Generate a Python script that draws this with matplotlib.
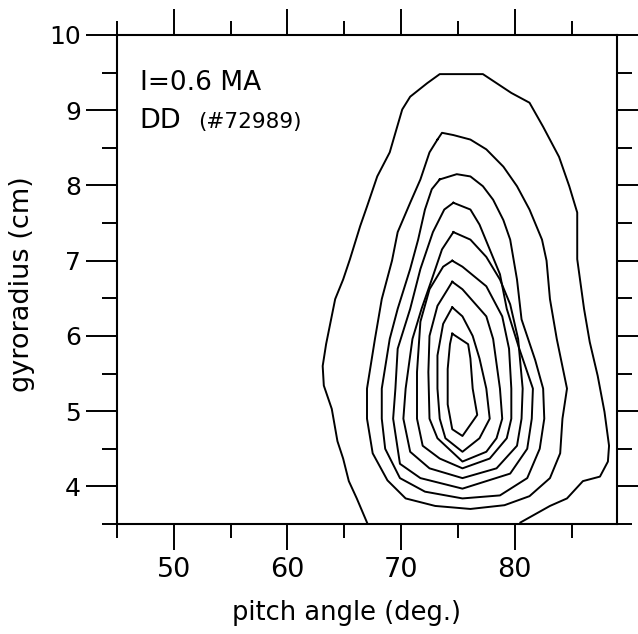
import numpy as np
import matplotlib.pyplot as plt

plt.rcParams['font.family'] = ['DejaVu Sans']

# contour lines: pitch angle (deg.) vs gyroradius (cm)
# outermost line is cut by the lower axis, the other 8 are closed
c1_pitch = [67.0, 66.1, 65.4, 64.9, 64.4, 63.9, 63.2, 63.1, 63.4, 64.2, 64.9, 65.5,
            66.4, 67.0, 67.9, 69.0, 69.5, 70.1, 70.8, 72.3, 73.4, 77.2, 79.7, 81.3,
            82.5, 83.9, 84.8, 85.5, 85.5, 86.1, 86.6, 87.3, 87.9, 88.3, 88.2, 87.5,
            86.0, 84.6, 83.1, 80.5]
c1_rho = [3.52, 3.84, 4.07, 4.37, 4.60, 5.03, 5.34, 5.60, 5.89, 6.49, 6.75, 7.02,
          7.46, 7.72, 8.12, 8.44, 8.70, 9.01, 9.18, 9.36, 9.48, 9.48, 9.23, 9.10,
          8.78, 8.38, 7.99, 7.64, 7.02, 6.36, 5.92, 5.47, 4.99, 4.54, 4.33, 4.13,
          4.07, 3.84, 3.74, 3.52]

c2_pitch = [73.2, 73.6, 74.6, 76.1, 77.5, 79.0, 80.2, 81.3, 82.4, 82.8, 83.1, 83.7,
            84.6, 84.2, 84.0, 83.1, 81.3, 79.1, 76.1, 73.0, 70.4, 68.8, 67.5, 67.0,
            67.0, 67.7, 68.3, 69.2, 69.7, 70.8, 71.7, 72.5]
c2_rho = [8.61, 8.70, 8.67, 8.61, 8.48, 8.25, 7.99, 7.68, 7.28, 7.00, 6.49, 5.96,
          5.30, 4.90, 4.44, 4.11, 3.87, 3.75, 3.70, 3.74, 3.84, 4.08, 4.44, 4.90,
          5.30, 5.96, 6.49, 7.00, 7.38, 7.77, 8.08, 8.44]

c3_pitch = [73.4, 74.9, 76.1, 77.2, 78.1, 79.0, 79.6, 80.2, 80.6, 81.8, 82.5, 82.6,
            82.2, 81.1, 78.7, 75.4, 72.1, 69.9, 68.6, 68.3, 68.3, 69.0, 69.7, 70.8,
            71.5, 72.1, 72.7]
c3_rho = [8.08, 8.15, 8.12, 7.99, 7.81, 7.54, 7.28, 6.75, 6.22, 5.68, 5.30, 4.90,
          4.50, 4.11, 3.88, 3.84, 3.93, 4.11, 4.50, 4.90, 5.30, 5.96, 6.36, 6.89,
          7.28, 7.68, 7.95]

c4_pitch = [74.6, 76.1, 76.9, 77.8, 78.7, 79.3, 80.4, 81.6, 81.5, 81.1, 79.6, 75.4,
            71.7, 69.9, 69.3, 69.5, 69.7, 70.8, 71.7, 72.8, 73.8]
c4_rho = [7.77, 7.68, 7.48, 7.15, 6.82, 6.36, 5.83, 5.30, 4.90, 4.50, 4.17, 3.97,
          4.11, 4.30, 4.90, 5.30, 5.83, 6.36, 6.89, 7.38, 7.68]

c5_pitch = [74.6, 76.1, 77.5, 78.7, 79.6, 80.3, 80.7, 80.6, 80.2, 78.4, 75.4, 72.5,
            70.8, 70.2, 70.4, 71.0, 71.8, 72.7, 73.6]
c5_rho = [7.38, 7.28, 7.05, 6.75, 6.42, 5.96, 5.30, 4.90, 4.54, 4.24, 4.11, 4.24,
          4.46, 4.90, 5.30, 5.96, 6.36, 6.75, 7.15]

c6_pitch = [74.5, 75.4, 77.5, 78.9, 79.5, 79.7, 79.7, 79.3, 77.8, 75.4, 73.4, 71.9,
            71.4, 71.4, 71.7, 72.5, 73.7]
c6_rho = [7.00, 6.92, 6.66, 6.26, 5.83, 5.30, 4.90, 4.64, 4.37, 4.24, 4.37, 4.54,
          4.90, 5.52, 6.19, 6.62, 6.92]

c7_pitch = [74.5, 75.4, 77.5, 78.1, 78.7, 78.9, 78.4, 77.5, 75.4, 73.2, 72.5, 72.4,
            72.5, 73.2, 74.1]
c7_rho = [6.72, 6.62, 6.26, 5.96, 5.30, 4.90, 4.64, 4.46, 4.33, 4.64, 4.90, 5.52,
          6.00, 6.40, 6.62]

c8_pitch = [74.5, 75.4, 76.3, 76.9, 77.5, 77.8, 76.9, 75.4, 73.9, 73.4, 73.2, 73.2, 73.7]
c8_rho = [6.38, 6.26, 6.00, 5.70, 5.30, 4.90, 4.64, 4.46, 4.64, 4.90, 5.30, 5.74, 6.16]

c9_pitch = [74.5, 75.9, 76.1, 76.3, 76.7, 75.4, 74.5, 74.1, 74.1, 74.3]
c9_rho = [6.03, 5.89, 5.70, 5.30, 4.95, 4.67, 4.76, 5.09, 5.56, 5.89]

lines = [(c1_pitch, c1_rho, False), (c2_pitch, c2_rho, True), (c3_pitch, c3_rho, True),
         (c4_pitch, c4_rho, True), (c5_pitch, c5_rho, True), (c6_pitch, c6_rho, True),
         (c7_pitch, c7_rho, True), (c8_pitch, c8_rho, True), (c9_pitch, c9_rho, True)]

x_major = [50, 60, 70, 80]
x_minor = [45, 55, 65, 75, 85]
y_major = [4, 5, 6, 7, 8, 9, 10]
y_minor = [3.5, 4.5, 5.5, 6.5, 7.5, 8.5, 9.5]

fig = plt.figure(figsize=(6.38, 6.34), dpi=100)
ax = fig.add_axes([117 / 638, 110 / 634, 500 / 638, 489 / 634])

for px, py, closed in lines:
    if closed:
        px = px + px[:1]
        py = py + py[:1]
    ax.plot(px, py, color='black', lw=1.4)

ax.set_xlim(45, 89)
ax.set_ylim(3.5, 10)

ax.set_xticks(x_major)
ax.set_xticks(x_minor, minor=True)
ax.set_yticks(y_major)
ax.set_yticks(y_minor, minor=True)
ax.tick_params(which='both', direction='out', top=True, right=True, width=1.4, color='black')
ax.tick_params(axis='x', which='major', length=19, labelsize=19.5, pad=5)
ax.tick_params(axis='x', which='minor', length=10)
ax.tick_params(axis='y', which='major', length=22, labelsize=18, pad=4)
ax.tick_params(axis='y', which='minor', length=11)
for s in ax.spines.values():
    s.set_linewidth(1.5)

ax.set_xlabel('pitch angle (deg.)', fontsize=18.5)
ax.set_ylabel('gyroradius (cm)', fontsize=19.5)
ax.xaxis.set_label_coords(0.458, -0.155)
ax.yaxis.set_label_coords(-0.165, 0.49)

ax.text(47.0, 9.27, 'I=0.6 MA', fontsize=19, va='baseline')
ax.text(47.0, 8.76, 'DD', fontsize=19.5, va='baseline')
ax.text(52.1, 8.76, '(#72989)', fontsize=15.5, va='baseline')

fig.savefig('out.png', dpi=100)
